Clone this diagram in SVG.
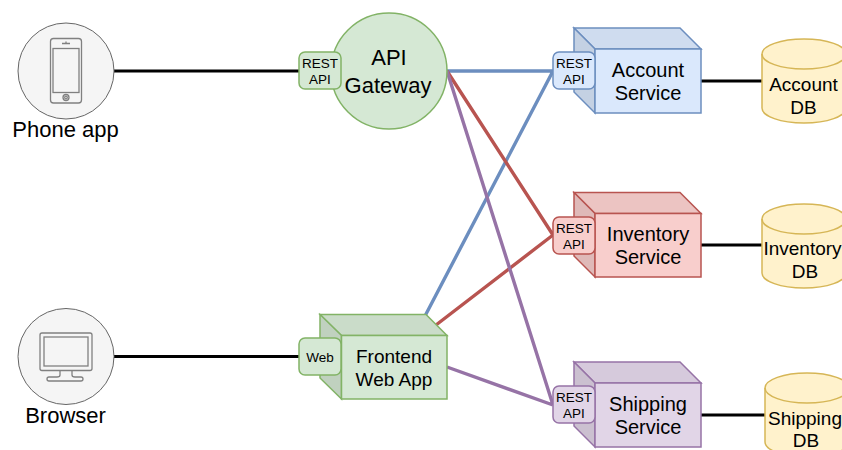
<svg xmlns="http://www.w3.org/2000/svg" width="842" height="450" viewBox="0 0 842 450">
<style>
text{font-family:"Liberation Sans",Arial,sans-serif;fill:#000;text-anchor:middle}
.t19{font-size:19px}.t20{font-size:20px}.t22{font-size:22px}.t14{font-size:13.5px}
.k{stroke:#000;stroke-width:3;fill:none}
.l{stroke-width:3.4;fill:none}
.client{fill:#f5f5f5;stroke:#666;stroke-width:1}
.icon{fill:none;stroke:#808080;stroke-width:1.3}
.g{fill:#d5e8d4;stroke:#82b366;stroke-width:1.5}
.gt{fill:#cadcc9;stroke:#82b366;stroke-width:1.5}
.gl{fill:#c0d1bf;stroke:#82b366;stroke-width:1.5}
.b{fill:#dae8fc;stroke:#6c8ebf;stroke-width:1.5}
.bt{fill:#cfdcef;stroke:#6c8ebf;stroke-width:1.5}
.bl{fill:#c4d1e3;stroke:#6c8ebf;stroke-width:1.5}
.r{fill:#f8cecc;stroke:#b85450;stroke-width:1.5}
.rt{fill:#ecc4c2;stroke:#b85450;stroke-width:1.5}
.rl{fill:#dfb9b8;stroke:#b85450;stroke-width:1.5}
.p{fill:#e1d5e7;stroke:#9673a6;stroke-width:1.5}
.pt{fill:#d6cadc;stroke:#9673a6;stroke-width:1.5}
.pl{fill:#cbc0d0;stroke:#9673a6;stroke-width:1.5}
.y{fill:#fff2cc;stroke:#d6b656;stroke-width:1.5}
.o{fill:none;stroke:#d6b656;stroke-width:1.5}
</style>
<g id="connectors">
<path class="k" d="M114 71H299M114 356.500H299M701 81H762M701 245H762M701 415H765"/>
<path class="l" stroke="#6c8ebf" d="M447 71H553M425 316L553 71"/>
<path class="l" stroke="#b85450" d="M447 71L553 235M436 325L553 235"/>
<path class="l" stroke="#9673a6" d="M447 71L553 405M447 367L553 405"/>
</g>
<g id="phone-app">
<circle class="client" cx="66" cy="71" r="48"/>
<rect class="icon" x="50.500" y="38.500" width="31" height="64.500" rx="3"/>
<rect class="icon" x="53" y="48.500" width="26" height="44"/>
<path class="icon" d="M62 43.500H70M66 41.500V43.500"/>
<circle class="icon" cx="66" cy="97.500" r="3"/>
<circle class="icon" cx="66" cy="97.500" r="1.300"/>
<text class="t22" x="65.500" y="137">Phone app</text>
</g>
<g id="browser">
<circle class="client" cx="66" cy="356.500" r="48"/>
<rect class="icon" x="40" y="333" width="52" height="37.500" rx="2"/>
<rect class="icon" x="44" y="337" width="44" height="29"/>
<path class="icon" d="M60 370.500V375Q60 377 57 377H49Q47 377 47 379T49 381H81Q83 381 83 379T81 377H75Q72 377 72 375V370.500"/>
<text class="t22" x="65.500" y="423">Browser</text>
</g>
<g id="api-gateway">
<circle class="g" cx="389" cy="71" r="58"/>
<rect class="g" x="299" y="52" width="42" height="37" rx="6"/>
<text class="t14" x="320" y="68">REST</text>
<text class="t14" x="320" y="84">API</text>
<text class="t22" x="389" y="65">API</text>
<text class="t22" x="388" y="93">Gateway</text>
</g>
<g id="frontend-web-app">
<path class="gt" d="M320 314.500H426L447 335.500H341.500Z"/>
<path class="gl" d="M320 314.500L341.500 335.500V399L320 378Z"/>
<rect class="g" x="341.500" y="335.500" width="105.500" height="63.500"/>
<rect class="g" x="299" y="338" width="42" height="37" rx="6"/>
<text class="t14" x="320" y="362">Web</text>
<text class="t19" x="394" y="363">Frontend</text>
<text class="t19" x="394" y="386">Web App</text>
</g>
<g id="account-service">
<path class="bt" d="M574 28H680L701 49H595Z"/>
<path class="bl" d="M574 28L595 49V113L574 92Z"/>
<rect class="b" x="595" y="49" width="106" height="64"/>
<rect class="b" x="553" y="52" width="42" height="37" rx="6"/>
<text class="t14" x="574" y="68">REST</text>
<text class="t14" x="574" y="84">API</text>
<text class="t20" x="648" y="77">Account</text>
<text class="t20" x="648" y="100">Service</text>
</g>
<g id="inventory-service">
<path class="rt" d="M574 192.500H680L701 213.500H595Z"/>
<path class="rl" d="M574 192.500L595 213.500V277L574 256Z"/>
<rect class="r" x="595" y="213.500" width="106" height="63.500"/>
<rect class="r" x="553" y="217" width="42" height="37" rx="6"/>
<text class="t14" x="574" y="233">REST</text>
<text class="t14" x="574" y="249">API</text>
<text class="t20" x="648" y="241">Inventory</text>
<text class="t20" x="648" y="264">Service</text>
</g>
<g id="shipping-service">
<path class="pt" d="M574 362H680L701 383H595Z"/>
<path class="pl" d="M574 362L595 383V447L574 426Z"/>
<rect class="p" x="595" y="383" width="106" height="64"/>
<rect class="p" x="553" y="386" width="42" height="37" rx="6"/>
<text class="t14" x="574" y="402">REST</text>
<text class="t14" x="574" y="418">API</text>
<text class="t20" x="648" y="411">Shipping</text>
<text class="t20" x="648" y="434">Service</text>
</g>
<g id="account-db">
<path class="y" d="M762 54A42 15 0 0 1 846 54V108A42 15 0 0 1 762 108Z"/>
<path class="o" d="M762 54A42 15 0 0 0 846 54"/>
<text class="t19" x="803.500" y="91">Account</text>
<text class="t19" x="803.500" y="114">DB</text>
</g>
<g id="inventory-db">
<path class="y" d="M762 219A42 15 0 0 1 846 219V273A42 15 0 0 1 762 273Z"/>
<path class="o" d="M762 219A42 15 0 0 0 846 219"/>
<text class="t19" x="802.500" y="255">Inventory</text>
<text class="t19" x="805" y="278">DB</text>
</g>
<g id="shipping-db">
<path class="y" d="M765 388A42 15 0 0 1 849 388V442A42 15 0 0 1 765 442Z"/>
<path class="o" d="M765 388A42 15 0 0 0 849 388"/>
<text class="t19" x="805" y="425">Shipping</text>
<text class="t19" x="806" y="447">DB</text>
</g>
</svg>
